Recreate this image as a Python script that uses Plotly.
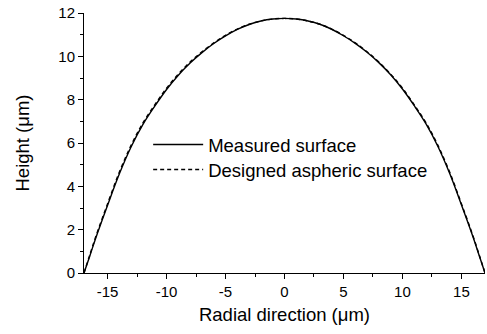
import plotly.graph_objects as go

# Right half radial positions (um) and heights (um); mirrored for left half
x_half = [0, 1, 2, 3, 4, 5, 6, 7, 8, 9, 10, 11, 12, 13, 14, 15, 16, 16.5, 17]
measured_right = [11.75, 11.72, 11.63, 11.48, 11.25, 10.95, 10.6, 10.19, 9.71, 9.15, 8.49, 7.72, 6.88, 5.85, 4.6, 3.15, 1.64, 0.82, 0.0]
measured_left = [11.75, 11.72, 11.63, 11.47, 11.24, 10.94, 10.59, 10.17, 9.69, 9.13, 8.47, 7.7, 6.86, 5.83, 4.58, 3.13, 1.62, 0.8, 0.0]
designed_right = [11.75, 11.72, 11.63, 11.48, 11.26, 10.97, 10.62, 10.21, 9.74, 9.18, 8.53, 7.76, 6.93, 5.9, 4.66, 3.2, 1.68, 0.85, 0.0]
designed_left = [11.75, 11.72, 11.63, 11.48, 11.26, 10.97, 10.62, 10.21, 9.74, 9.18, 8.53, 7.76, 6.93, 5.9, 4.66, 3.2, 1.68, 0.85, 0.0]

x_vals = [-v for v in x_half[::-1]] + x_half[1:]
measured = measured_left[::-1] + measured_right[1:]
designed = designed_left[::-1] + designed_right[1:]

font = "Liberation Sans, Arial, sans-serif"

fig = go.Figure()
fig.add_trace(go.Scatter(x=x_vals, y=measured, mode="lines", name="Measured surface",
                         legend="legend",
                         line=dict(color="black", width=1.4, shape="spline", smoothing=1)))
fig.add_trace(go.Scatter(x=x_vals, y=designed, mode="lines", name="Designed aspheric surface",
                         legend="legend2",
                         line=dict(color="black", width=1.4, dash="4px,3px", shape="spline", smoothing=1)))

leg_common = dict(xanchor="left", yanchor="middle", bgcolor="rgba(0,0,0,0)",
                  font=dict(size=18.5, family=font), itemwidth=50)

fig.update_layout(
    width=487, height=334,
    margin=dict(l=84, r=2, t=13, b=61),
    paper_bgcolor="white", plot_bgcolor="white",
    font=dict(family=font, size=15, color="black"),
    showlegend=True,
    legend=dict(x=0.16, y=(273 - 145) / 260, **leg_common),
    legend2=dict(x=0.16, y=(273 - 170) / 260, **leg_common),
    xaxis=dict(range=[-17, 17], tickvals=[-15, -10, -5, 0, 5, 10, 15],
               ticktext=["-15", "-10", "-5", "0", "5", "10", "15"],
               ticks="outside", ticklen=5, tickwidth=1, tickcolor="black",
               showline=True, linecolor="black", linewidth=1, mirror=False,
               showgrid=False, zeroline=False,
               minor=dict(tickvals=[-12.5, -7.5, -2.5, 2.5, 7.5, 12.5], ticks="outside", ticklen=3, tickcolor="black"),
               title=dict(text="Radial direction (μm)", font=dict(size=18.5), standoff=9),
               tickfont=dict(size=15)),
    yaxis=dict(range=[0, 12], tickvals=[0, 2, 4, 6, 8, 10, 12],
               ticks="outside", ticklen=5, tickwidth=1, tickcolor="black",
               showline=True, linecolor="black", linewidth=1, mirror=False,
               showgrid=False, zeroline=False,
               minor=dict(tickvals=[1, 3, 5, 7, 9, 11], ticks="outside", ticklen=3, tickcolor="black"),
               title=dict(text="Height (μm)", font=dict(size=18.5), standoff=23),
               tickfont=dict(size=15)),
)

fig.write_html("out.html")
